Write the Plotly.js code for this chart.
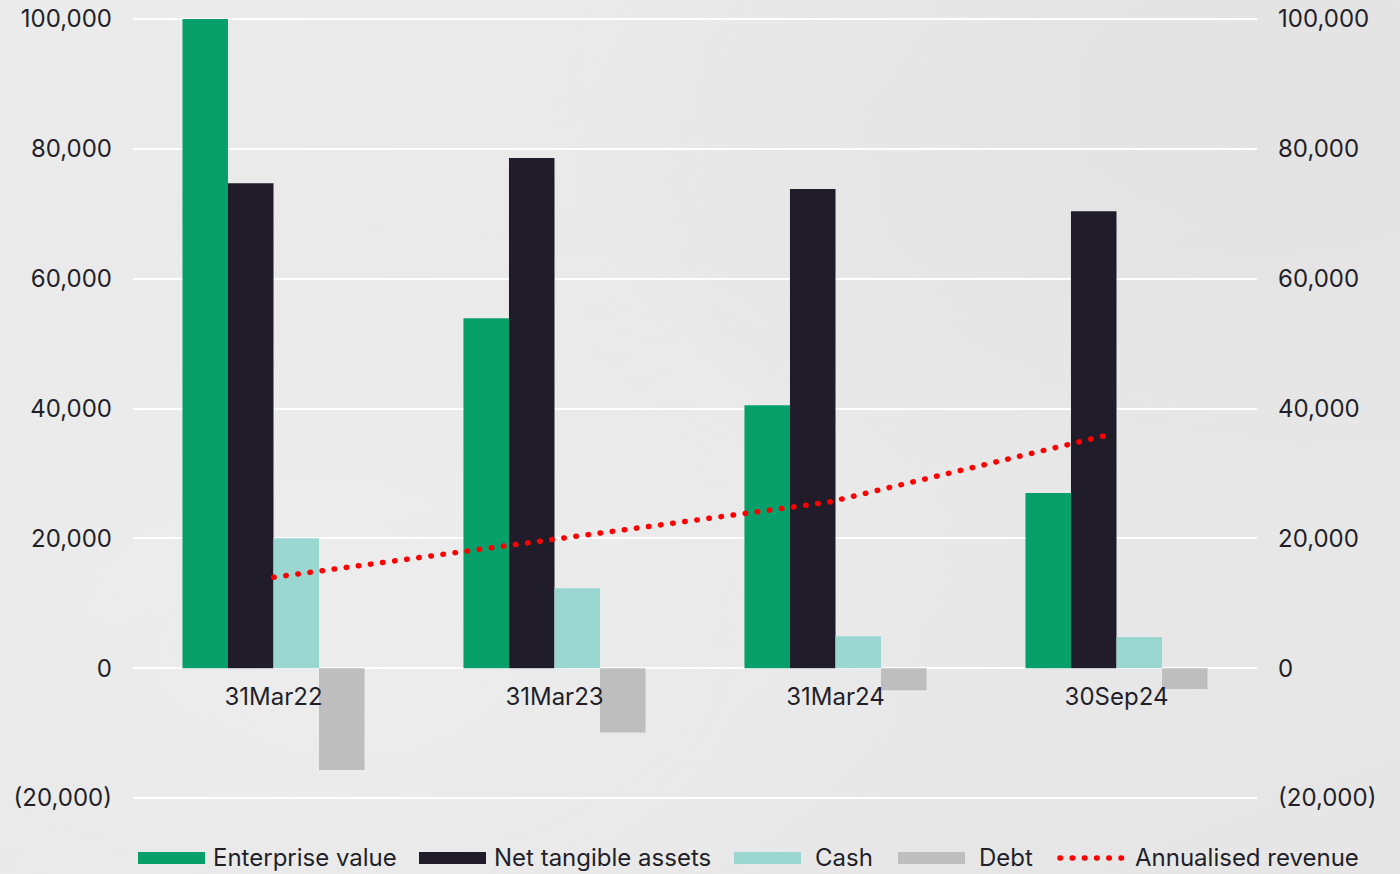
<!DOCTYPE html>
<html>
<head>
<meta charset="utf-8">
<script src="https://cdn.plot.ly/plotly-3.0.1.min.js"></script>
<style>
  html, body { margin: 0; padding: 0; }
  body {
    width: 1400px; height: 874px; overflow: hidden;
    background:
      radial-gradient(ellipse at 90% 10%, rgba(215,215,215,0.35), rgba(215,215,215,0) 40%),
      radial-gradient(ellipse at 25% 75%, rgba(245,245,245,0.35), rgba(245,245,245,0) 50%),
      linear-gradient(160deg, #ebebeb 0%, #e8e8e8 55%, #e6e6e6 100%);
  }
  #chart { width: 1400px; height: 874px; }
</style>
</head>
<body>
<div id="chart"></div>
<script>
// ---- data ----
const categories = ["31Mar22", "31Mar23", "31Mar24", "30Sep24"];
const enterpriseValue = [100000, 53900, 40500, 27000];
const netTangibleAssets = [74700, 78600, 73800, 70400];
const cash = [20000, 12300, 4900, 4800];
const debt = [-15700, -9900, -3400, -3200];
const annualisedRevenue = [14000, 19800, 25600, 35900];

const seriesNames = ["Enterprise value", "Net tangible assets", "Cash", "Debt", "Annualised revenue"];
const yTickVals = [-20000, 0, 20000, 40000, 60000, 80000, 100000];
const yTickText = ["(20,000)", "0", "20,000", "40,000", "60,000", "80,000", "100,000"];

// ---- styles ----
const colors = ["#07a06b", "#211c29", "#9ad7d0", "#bebebe", "#ff0000"];
const textColor = "#231f29";
const fontFamily = "Inter, 'Noto Sans', 'DejaVu Sans', sans-serif";
const fontSize = 24;

const W = 1400, H = 874;
const M = { l: 133, r: 143, t: 17, b: 74 };
const plotW = W - M.l - M.r, plotH = H - M.t - M.b;
const unitsPerPx = 120000 / 779;
const yMin = -20000 - 2 * unitsPerPx, yMax = 100000 + 2 * unitsPerPx;
const px2x = px => (px - M.l) / plotW;
const py2y = py => (H - M.b - py) / plotH;

const barData = [enterpriseValue, netTangibleAssets, cash, debt];
const traces = barData.map((vals, i) => ({
  type: "bar",
  name: seriesNames[i],
  x: categories,
  y: vals,
  marker: { color: colors[i], line: { width: 0 } },
  hoverinfo: "x+y+name"
}));

traces.push({
  type: "scatter",
  mode: "lines",
  name: seriesNames[4],
  x: categories,
  y: annualisedRevenue,
  xaxis: "x2",
  yaxis: "y2",
  line: { color: colors[4], width: 5.5, dash: "0.5px,11.7px" }
});

// ---- custom legend ----
const legendItems = [
  { sw: 138, tx: 211 },
  { sw: 419, tx: 492 },
  { sw: 734, tx: 813 },
  { sw: 898, tx: 977 },
  { sw: 1058, tx: 1133 }
];
const swW = 67, swH = 12, legY = 858;
const shapes = [];
const annotations = [];
legendItems.forEach((it, i) => {
  if (i < 4) {
    shapes.push({
      type: "rect", xref: "paper", yref: "paper",
      x0: px2x(it.sw), x1: px2x(it.sw + swW),
      y0: py2y(legY + swH / 2), y1: py2y(legY - swH / 2),
      fillcolor: colors[i], line: { width: 0 }
    });
  } else {
    shapes.push({
      type: "line", xref: "paper", yref: "paper",
      x0: px2x(it.sw + 2), x1: px2x(it.sw + swW),
      y0: py2y(legY), y1: py2y(legY),
      line: { color: colors[i], width: 5.5, dash: "0.5px,11.7px" }
    });
  }
  annotations.push({
    xref: "paper", yref: "paper",
    x: px2x(it.tx), y: py2y(legY),
    xanchor: "left", yanchor: "middle",
    text: seriesNames[i], showarrow: false,
    font: { family: fontFamily, size: fontSize, color: textColor }
  });
});

const yAxisCommon = {
  range: [yMin, yMax],
  tickvals: yTickVals,
  ticktext: yTickText,
  showline: false,
  zeroline: false,
  ticks: "",
  tickfont: { family: fontFamily, size: fontSize, color: textColor },
  ticklabelstandoff: 20
};

const layout = {
  width: W, height: H,
  margin: M,
  paper_bgcolor: "rgba(0,0,0,0)",
  plot_bgcolor: "rgba(0,0,0,0)",
  showlegend: false,
  barmode: "group",
  bargap: 0.352,
  bargroupgap: 0,
  font: { family: fontFamily, size: fontSize, color: textColor },
  xaxis: {
    type: "category",
    anchor: "free",
    position: (0 - yMin) / (yMax - yMin),
    showgrid: false, showline: false, zeroline: false, ticks: "",
    tickfont: { family: fontFamily, size: fontSize, color: textColor },
    ticklabelstandoff: 12
  },
  xaxis2: {
    type: "category",
    overlaying: "x",
    range: [-0.506, 3.538],
    visible: false
  },
  yaxis: Object.assign({}, yAxisCommon, {
    side: "left",
    showgrid: true, gridcolor: "#ffffff", gridwidth: 2
  }),
  yaxis2: Object.assign({}, yAxisCommon, {
    side: "right",
    overlaying: "y",
    showgrid: false
  }),
  shapes: shapes,
  annotations: annotations
};

Plotly.newPlot("chart", traces, layout, { displayModeBar: false, staticPlot: true }).then(() => {
  document.querySelectorAll(".scatterlayer .js-line").forEach(p => { p.style.strokeLinecap = "round"; });
  document.querySelectorAll(".shapelayer path").forEach(p => { p.style.strokeLinecap = "round"; });
});
</script>
</body>
</html>
